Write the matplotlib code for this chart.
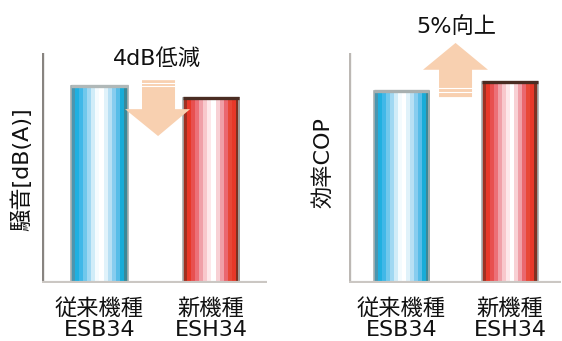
import matplotlib
matplotlib.use("Agg")
import matplotlib.pyplot as plt
import numpy as np
from matplotlib.colors import to_rgb
from matplotlib.patches import Polygon

plt.rcParams['font.family'] = ['DejaVu Sans', 'Noto Sans CJK JP']

# ---- data ----
categories = ["従来機種\nESB34", "新機種\nESH34"]
noise_db = [66, 62]          # 騒音 [dB(A)]
cop = [4.0, 4.2]             # 効率 COP
noise_label = "騒音[dB(A)]"
cop_label = "効率COP"
noise_note = "4dB低減"
cop_note = "5%向上"

blue_stripes = ["#4a96b0", "#20b0e0", "#40b8e8", "#70c8ec", "#a0d8f2", "#d0ecf8",
                "#f4fbfe", "#ffffff", "#e0f2fa", "#b8e0f4", "#88cdef", "#58bde8",
                "#18acd8", "#3a8898"]
red_stripes = ["#a03020", "#e83828", "#e85050", "#ec7078", "#f0a0a8", "#f8c8cc",
               "#fde8ea", "#ffffff", "#f8d0d4", "#f0a0a8", "#ea6870", "#e84838",
               "#e83828", "#803020"]
arrow_color = "#f8d0b0"
text_color = "#111111"
FS = 16

W, H = 562, 341
fig = plt.figure(figsize=(W / 100, H / 100), dpi=100)


def px_axes(x0, y0, x1, y1):
    return fig.add_axes([x0 / W, 1 - y1 / H, (x1 - x0) / W, (y1 - y0) / H])


def draw_panel(ax, values, ylim, xlim, axis_color, top_colors):
    ax.set_xlim(*xlim)
    ax.set_ylim(*ylim)
    for s in ax.spines.values():
        s.set_visible(False)
    ax.set_yticks([])
    xs = np.arange(len(values))
    bars = ax.bar(xs, values, width=0.51, facecolor="none",
                  edgecolor="#a8b0b0", linewidth=1.2, zorder=3)
    for bar, stripes, topc in zip(bars, [blue_stripes, red_stripes], top_colors):
        x0 = bar.get_x()
        x1 = x0 + bar.get_width()
        h = bar.get_height()
        img = np.array([[to_rgb(c) for c in stripes]])
        ax.imshow(img, extent=(x0, x1, 0, h), aspect='auto',
                  interpolation='nearest', zorder=2)
        ax.plot([x0, x1], [h, h], color=topc, lw=2.4, zorder=4,
                solid_capstyle='butt')
    ax.set_xlim(*xlim)
    ax.set_ylim(*ylim)
    ax.set_xticks(xs)
    ax.set_xticklabels(categories, fontsize=FS, color=text_color,
                       linespacing=1.05)
    ax.tick_params(axis='x', length=0, pad=11)
    # axes lines
    ax.axvline(xlim[0], ymin=0, ymax=1, color=axis_color, lw=2.4, zorder=5)
    ax.axhline(0, color="#cbc7c3", lw=3.0, zorder=6)
    return bars


# Left panel: noise
axL = px_axes(42, 53, 267, 283)
draw_panel(axL, noise_db, (0, 77), (-0.516, 1.502), "#888480",
           ["#b0b8b8", "#4a2c22"])
axL.text((22 - 42) / 225, (283 - 169) / 230, noise_label, transform=axL.transAxes,
         rotation=90, ha='center', va='center', fontsize=FS, color=text_color)
axL.text(0.516, 67.9 + 3.9, noise_note, ha='center', va='bottom', fontsize=FS,
         color=text_color)
# down arrow
down = Polygon([(0.381, 67.9), (0.677, 67.9), (0.677, 58.2), (0.812, 58.2),
                (0.525, 49.2), (0.229, 58.2), (0.381, 58.2)],
               closed=True, facecolor=arrow_color, edgecolor='none', zorder=7)
axL.add_patch(down)
for yy in (66.9, 65.9):
    axL.plot([0.381, 0.677], [yy, yy], color='white', lw=0.8, zorder=8)

# Right panel: COP
axR = px_axes(349, 53, 561, 283)
draw_panel(axR, cop, (0, 4.8), (-0.484, 1.47), "#bcb8b4",
           ["#a8b0b0", "#4a2c22"])
axR.text((323 - 349) / 212, (283 - 163) / 230, cop_label, transform=axR.transAxes,
         rotation=90, ha='center', va='center', fontsize=FS, color=text_color)
axR.text(0.502, 5.01 + 0.12, cop_note, ha='center', va='bottom', fontsize=FS,
         color=text_color)
up = Polygon([(0.346, 3.88), (0.650, 3.88), (0.650, 4.45), (0.797, 4.45),
              (0.498, 5.01), (0.198, 4.45), (0.346, 4.45)],
             closed=True, facecolor=arrow_color, edgecolor='none', zorder=7,
             clip_on=False)
axR.add_patch(up)
for yy in (4.06, 3.98):
    axR.plot([0.346, 0.650], [yy, yy], color='white', lw=0.8, zorder=8)

fig.savefig("out.png", dpi=100, facecolor="white")
